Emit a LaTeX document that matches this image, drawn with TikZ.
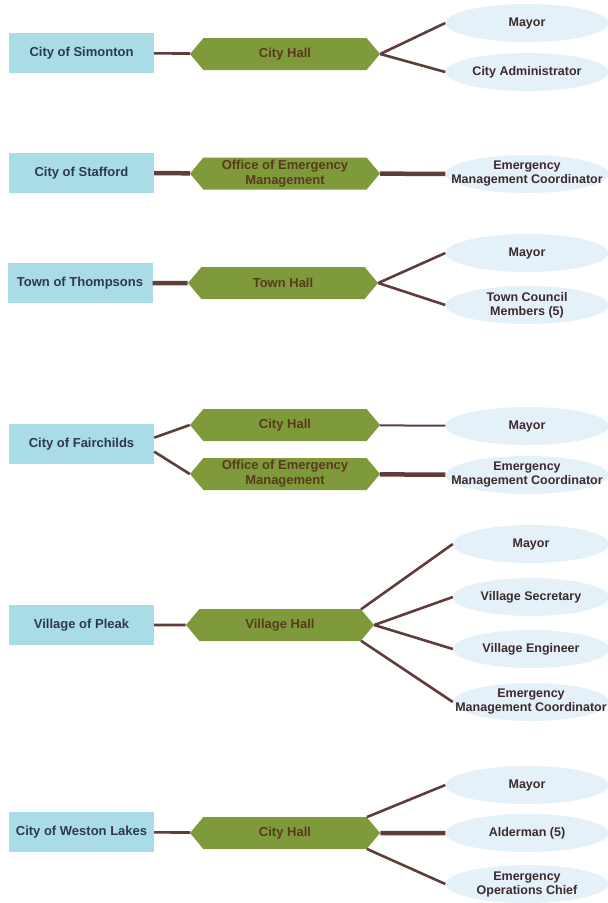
\documentclass[tikz,border=0pt]{standalone}
\usepackage{fontspec}
\setmainfont{Liberation Sans}
\usetikzlibrary{shapes.symbols,shapes.geometric}

\definecolor{placeblue}{HTML}{A9DCE7}
\definecolor{placetext}{HTML}{2F3A48}
\definecolor{hallgreen}{HTML}{7E9A3B}
\definecolor{halltext}{HTML}{5A3A1C}
\definecolor{officeblue}{HTML}{E5F1F8}
\definecolor{officetext}{HTML}{3B2B2E}
\definecolor{linkbrown}{HTML}{5E3D3A}

\begin{document}
\begin{tikzpicture}[x=1pt,y=-1pt]
    \tikzstyle{place}=[rectangle,fill=placeblue,text=placetext,minimum width=145pt,minimum height=40pt,inner sep=2pt,font=\bfseries\fontsize{13}{15}\selectfont]
    \tikzstyle{hall}=[signal,signal to=east and west,signal pointer angle=100,fill=hallgreen,text=halltext,minimum width=190pt,minimum height=32pt,inner xsep=2pt,inner ysep=1pt,align=center,font=\bfseries\fontsize{13}{15}\selectfont]
    \tikzstyle{office}=[ellipse,fill=officeblue,text=officetext,minimum width=163pt,minimum height=38pt,inner xsep=-30pt,inner ysep=-5pt,align=center,font=\bfseries\fontsize{12.5}{14}\selectfont]
    \tikzstyle{link}=[draw=linkbrown,line width=2.6pt]
    \tikzstyle{heavylink}=[draw=linkbrown,line width=4.5pt]

    \useasboundingbox (0,0) rectangle (608,903);

    % Simonton
    \node[place] (sim) at (81.5,53) {City of Simonton};
    \node[hall] (simhall) at (285,54) {City Hall};
    \node[office] (simmayor) at (527,23) {Mayor};
    \node[office] (simadmin) at (527,72) {City Administrator};
    \draw[link] (sim) -- (simhall);
    \foreach \to in {simmayor, simadmin}
        \draw[link] (simhall.east) -- (\to.west);

    % Stafford
    \node[place] (sta) at (81.5,173) {City of Stafford};
    \node[hall] (staoem) at (285,173.5) {Office of Emergency\\Management};
    \node[office] (staemc) at (527,174) {Emergency\\Management Coordinator};
    \draw[heavylink] (sta) -- (staoem);
    \draw[heavylink] (staoem) -- (staemc);

    % Thompsons
    \node[place] (tho) at (80,283) {Town of Thompsons};
    \node[hall] (thohall) at (283,283) {Town Hall};
    \node[office] (thomayor) at (527,253) {Mayor};
    \node[office] (thocouncil) at (527,305) {Town Council\\Members (5)};
    \draw[heavylink] (tho) -- (thohall);
    \foreach \to in {thomayor, thocouncil}
        \draw[link] (thohall.east) -- (\to.west);

    % Fairchilds
    \node[place] (fai) at (81.5,444) {City of Fairchilds};
    \node[hall] (faihall) at (285,425) {City Hall};
    \node[hall] (faioem) at (285,474) {Office of Emergency\\Management};
    \node[office] (faimayor) at (527,426) {Mayor};
    \node[office] (faiemc) at (527,475) {Emergency\\Management Coordinator};
    \draw[link] (fai.5) -- (faihall.west);
    \draw[link] (fai.-6) -- (faioem.west);
    \draw[link,line width=2pt] (faihall) -- (faimayor);
    \draw[heavylink] (faioem) -- (faiemc);

    % Pleak
    \node[place] (ple) at (81.5,625) {Village of Pleak};
    \node[hall,minimum width=188pt] (plehall) at (280,625) {Village Hall};
    \node[office,minimum width=156pt] (plemayor) at (531,544) {Mayor};
    \node[office,minimum width=156pt] (plesec) at (531,597) {Village Secretary};
    \node[office,minimum width=156pt] (pleeng) at (531,649) {Village Engineer};
    \node[office,minimum width=156pt] (pleemc) at (531,702) {Emergency\\Management Coordinator};
    \draw[link] (ple) -- (plehall);
    \draw[link] (plehall.11) -- (plemayor.west);
    \foreach \to in {plesec, pleeng}
        \draw[link] (plehall.east) -- (\to.west);
    \draw[link] (plehall.-11) -- (pleemc.west);

    % Weston Lakes
    \node[place] (wes) at (81.5,832) {City of Weston Lakes};
    \node[hall] (weshall) at (285,833) {City Hall};
    \node[office] (wesmayor) at (527,785) {Mayor};
    \node[office] (wesald) at (527,833) {Alderman (5)};
    \node[office] (weseoc) at (527,884) {Emergency\\Operations Chief};
    \draw[link] (wes) -- (weshall);
    \draw[link] (weshall.11) -- (wesmayor.west);
    \draw[heavylink] (weshall) -- (wesald);
    \draw[link] (weshall.-11) -- (weseoc.west);
\end{tikzpicture}
\end{document}
